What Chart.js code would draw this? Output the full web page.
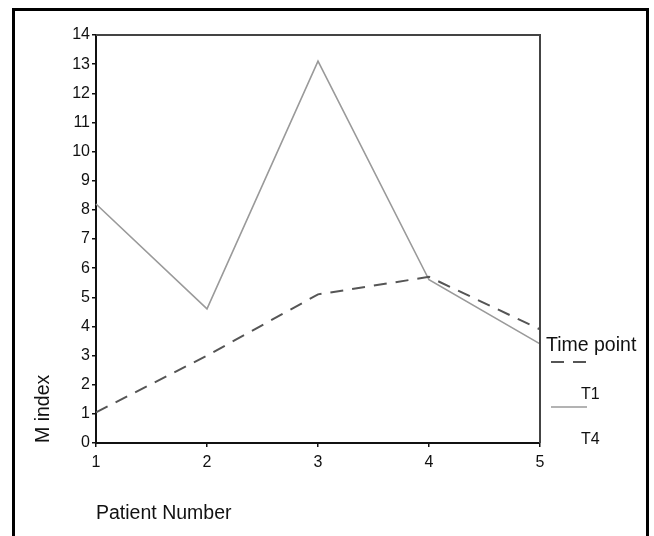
<!DOCTYPE html>
<html>
<head>
<meta charset="utf-8">
<title>M index by patient</title>
<script src="https://cdn.jsdelivr.net/npm/chart.js@4.4.1/dist/chart.umd.min.js"></script>
<style>
  html, body { margin: 0; padding: 0; background: #fff; }
  canvas { display: block; }
</style>
</head>
<body>
<canvas id="chart" width="654" height="536"></canvas>
<script>
// x axis: patient numbers
const patients = ['1', '2', '3', '4', '5'];
// M index per patient, one array per time point
const t1Values = [1.05, 3.0, 5.1, 5.7, 3.9];
const t4Values = [8.2, 4.6, 13.1, 5.6, 3.4];
const seriesNames = ['T1', 'T4'];
// y axis range
const yMin = 0;
const yMax = 14;

const FONT = '"Liberation Sans", Arial, sans-serif';
const INK = '#111';

// outer black frame + closing top/right lines of the plot box
const framePlugin = {
    id: 'frame',
    beforeDraw(chart) {
        const { ctx } = chart;
        ctx.save();
        ctx.strokeStyle = '#000';
        ctx.lineWidth = 3;
        ctx.strokeRect(13.5, 9.5, 634, 600);
        ctx.restore();
    },
    afterDraw(chart) {
        const { ctx, chartArea: a } = chart;
        ctx.save();
        ctx.strokeStyle = '#444';
        ctx.lineWidth = 2;
        ctx.beginPath();
        ctx.moveTo(a.left, a.top);
        ctx.lineTo(a.right, a.top);
        ctx.lineTo(a.right, a.bottom);
        ctx.stroke();
        ctx.restore();
    },
};

// legend on the right: line sample above its label
const sideLegend = {
    id: 'sideLegend',
    afterDraw(chart) {
        const { ctx, chartArea: a } = chart;
        const x = a.right + 6;
        ctx.save();
        ctx.fillStyle = INK;
        ctx.textBaseline = 'alphabetic';
        ctx.font = '19.5px ' + FONT;
        ctx.fillText('Time point', x, 351);
        chart.data.datasets.forEach((ds, i) => {
            const y = 362 + i * 45;
            ctx.strokeStyle = ds.borderColor;
            ctx.lineWidth = ds.borderWidth;
            ctx.setLineDash(ds.borderDash || []);
            ctx.beginPath();
            ctx.moveTo(x + 5, y);
            ctx.lineTo(x + 41, y);
            ctx.stroke();
            ctx.setLineDash([]);
            ctx.font = '16px ' + FONT;
            ctx.fillText(ds.label, x + 35, y + 37);
        });
        ctx.restore();
    },
};

const axisLine = { display: true, color: '#111', width: 2 };
const tickGrid = {
    drawOnChartArea: false,
    drawTicks: true,
    tickLength: 4,
    color: '#111',
    lineWidth: 1.5,
};

new Chart(document.getElementById('chart'), {
    type: 'line',
    data: {
        labels: patients,
        datasets: [
            {
                label: seriesNames[0],
                data: t1Values,
                borderColor: '#555',
                borderWidth: 2,
                borderDash: [13, 9],
                pointRadius: 0,
                tension: 0,
                fill: false,
            },
            {
                label: seriesNames[1],
                data: t4Values,
                borderColor: '#9a9a9a',
                borderWidth: 1.6,
                pointRadius: 0,
                tension: 0,
                fill: false,
            },
        ],
    },
    options: {
        responsive: false,
        animation: false,
        layout: { padding: { left: 14, top: 35, right: 114, bottom: 0 } },
        plugins: {
            legend: { display: false },
            tooltip: { enabled: false },
        },
        scales: {
            x: {
                offset: false,
                border: axisLine,
                grid: tickGrid,
                ticks: { color: INK, padding: 6, maxRotation: 0, font: { family: FONT, size: 16 } },
                title: {
                    display: true,
                    text: 'Patient Number',
                    align: 'start',
                    color: INK,
                    padding: { top: 0, bottom: 11 },
                    font: { family: FONT, size: 19.5 },
                },
                afterFit(scale) { scale.height = 93; },
            },
            y: {
                min: yMin,
                max: yMax,
                border: axisLine,
                grid: tickGrid,
                ticks: { stepSize: 1, color: INK, padding: 2, font: { family: FONT, size: 16 } },
                title: {
                    display: true,
                    text: 'M index',
                    align: 'start',
                    color: INK,
                    padding: { top: 18, bottom: 0 },
                    font: { family: FONT, size: 19.5 },
                },
                afterFit(scale) { scale.width = 82; },
            },
        },
    },
    plugins: [framePlugin, sideLegend],
});
</script>
</body>
</html>
